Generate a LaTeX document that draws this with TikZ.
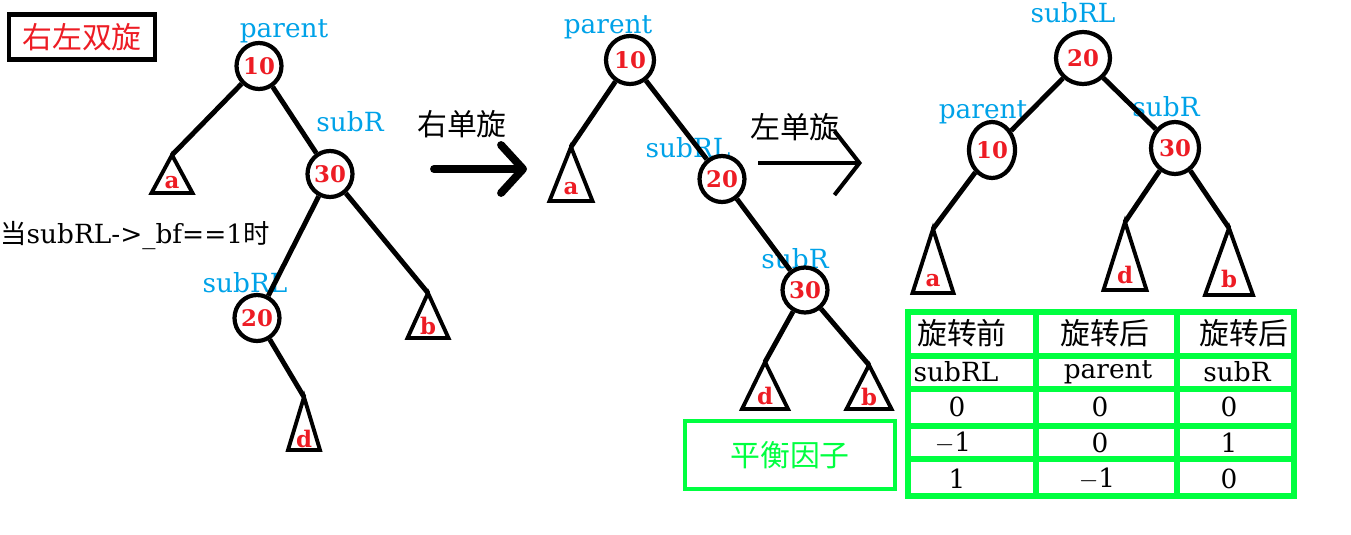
\documentclass[tikz,border=0pt]{standalone}
\usepackage{fontspec}
\setmainfont{DejaVu Serif}
\newfontfamily\cjk{Noto Sans CJK SC}
\usepackage{xcolor}
\usetikzlibrary{arrows.meta,positioning,shapes.geometric}
\definecolor{tagblue}{RGB}{0,162,232}
\definecolor{inkred}{RGB}{237,28,36}
\definecolor{boxgreen}{RGB}{0,255,64}

\begin{document}
\begin{tikzpicture}[x=0.02cm,y=-0.02cm,
key/.style={ellipse,draw,line width=2.4pt,inner sep=0pt,minimum width=0.9cm,minimum height=0.92cm,text=inkred,font=\fontsize{13}{13}\selectfont\bfseries},
subtree/.style={isosceles triangle,shape border rotate=90,isosceles triangle stretches,draw,line width=2.2pt,inner sep=0pt,outer sep=0pt,anchor=south,text=inkred,font=\fontsize{13}{13}\selectfont\bfseries},
tag/.style={text=tagblue,font=\fontsize{15}{15}\selectfont,inner sep=0pt},
edge/.style={line width=2.8pt},
cell/.style={font=\fontsize{15}{15}\selectfont,inner sep=0pt},
hanzi/.style={font=\fontsize{17}{17}\selectfont\cjk,inner sep=0pt}]
\useasboundingbox (0,0) rectangle (1351,534);

% title and condition
\node[draw,line width=2.3pt,minimum width=2.92cm,minimum height=0.9cm,text=inkred,font=\fontsize{17}{17}\selectfont\cjk] (title) at (82,37) {右左双旋};
\node[anchor=west,inner sep=0pt,font=\fontsize{15}{15}\selectfont] (cond) at (0,236) {{\cjk 当}subRL->\_bf==1{\cjk 时}};

% tree before rotation
\node[tag] (p1) at (284,31) {parent};
\node[key] (a1) at (259,66) {10};
\node[tag] (r1) at (350,122) {subR};
\node[key] (b1) at (330,174) {30};
\node[tag] (rl1) at (245,283) {subRL};
\node[key] (c1) at (257,318) {20};
\node[subtree,minimum width=0.82cm,minimum height=0.76cm] (ta1) at (172,193) {a};
\node[subtree,minimum width=0.82cm,minimum height=0.9cm] (tb1) at (428,338) {b};
\node[subtree,minimum width=0.64cm,minimum height=1.06cm] (td1) at (304,450) {d};

\draw[edge] (a1)--(ta1.apex);
\draw[edge] (a1)--(b1);
\draw[edge] (b1)--(c1);
\draw[edge] (b1)--(tb1.apex);
\draw[edge] (c1)--(td1.apex);

% first rotation
\coordinate (arA0) at (434,169);
\coordinate (arA1) at (527,169);
\draw[line width=4.5pt,line cap=round,-{Straight Barb[length=0.44cm,width=0.96cm,round]}] (arA0)--(arA1);
\node[hanzi] (rotA) at (462,124) {右单旋};

% tree after right rotation
\node[tag] (p2) at (608,27) {parent};
\node[key,minimum width=0.96cm,minimum height=0.96cm] (a2) at (630,60) {10};
\node[tag] (rl2) at (688,148) {subRL};
\node[key,minimum width=0.88cm] (b2) at (722,179) {20};
\node[tag] (r2) at (795,259) {subR};
\node[key,minimum width=0.72cm,minimum height=0.9cm] (c2) at (805,290) {30};
\node[subtree,minimum width=0.86cm,minimum height=1.08cm] (ta2) at (571,201) {a};
\node[subtree,minimum width=0.92cm,minimum height=0.94cm] (td2) at (765,409) {d};
\node[subtree,minimum width=0.9cm,minimum height=0.88cm] (tb2) at (869,409) {b};

\draw[edge] (a2)--(ta2.apex);
\draw[edge] (a2)--(b2);
\draw[edge] (b2)--(c2);
\draw[edge] (c2)--(td2.apex);
\draw[edge] (c2)--(tb2.apex);

\node[draw=boxgreen,line width=2.8pt,minimum width=4.2cm,minimum height=1.36cm,text=boxgreen,font=\fontsize{17}{17}\selectfont\cjk] (bf) at (790,455) {平衡因子};

% second rotation
\coordinate (arB0) at (758,163);
\coordinate (arB1) at (862,163);
\draw[line width=2.3pt,-{Straight Barb[length=0.5cm,width=1.28cm]}] (arB0)--(arB1);
\node[hanzi] (rotB) at (795,127) {左单旋};

% tree after left rotation
\node[tag] (rl3) at (1073,13) {subRL};
\node[key,minimum width=1.08cm,minimum height=1.04cm] (a3) at (1083,58) {20};
\node[tag] (p3) at (983,112) {parent};
\node[key,minimum width=0.92cm,minimum height=1.12cm] (b3) at (992,150) {10};
\node[tag] (r3) at (1166,107) {subR};
\node[key,minimum width=0.96cm,minimum height=1.04cm] (c3) at (1175,148) {30};
\node[subtree,minimum width=0.82cm,minimum height=1.28cm] (ta3) at (933,293) {a};
\node[subtree,minimum width=0.86cm,minimum height=1.36cm] (td3) at (1125,290) {d};
\node[subtree,minimum width=0.96cm,minimum height=1.34cm] (tb3) at (1229,295) {b};

\draw[edge] (a3)--(b3);
\draw[edge] (a3)--(c3);
\draw[edge] (b3)--(ta3.apex);
\draw[edge] (c3)--(td3.apex);
\draw[edge] (c3)--(tb3.apex);

% balance factor table
\draw[boxgreen,line width=3.4pt] (908,312) rectangle (1294,496);
\draw[boxgreen,line width=3.4pt] (1036,312)--(1036,496) (1177,312)--(1177,496);
\draw[boxgreen,line width=3.4pt] (908,356)--(1294,356) (908,389)--(1294,389) (908,426)--(1294,426) (908,459)--(1294,459);

\node[hanzi] (h1) at (962,333) {旋转前};
\node[hanzi] (h2) at (1105,333) {旋转后};
\node[hanzi] (h3) at (1244,333) {旋转后};
\node[cell] (s1) at (956,372) {subRL};
\node[cell] (s2) at (1108,372) {parent};
\node[cell] (s3) at (1237,372) {subR};
\node[cell] (v11) at (957,407) {0};
\node[cell] (v12) at (1100,407) {0};
\node[cell] (v13) at (1229,407) {0};
\node[cell] (v21) at (953,443) {$-$1};
\node[cell] (v22) at (1100,443) {0};
\node[cell] (v23) at (1229,443) {1};
\node[cell] (v31) at (957,479) {1};
\node[cell] (v32) at (1097,479) {$-$1};
\node[cell] (v33) at (1229,479) {0};
\end{tikzpicture}
\end{document}
